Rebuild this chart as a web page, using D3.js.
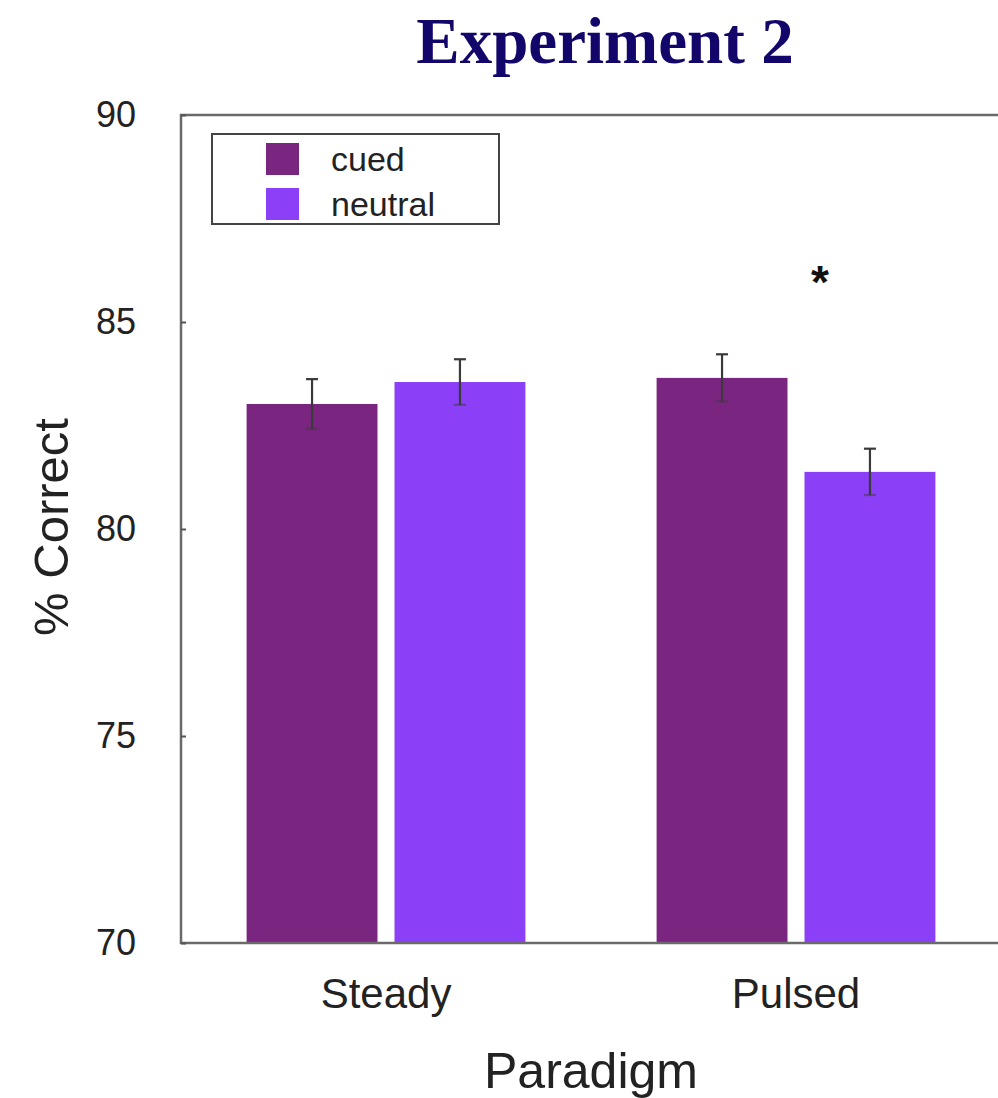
<!DOCTYPE html>
<html>
<head>
<meta charset="utf-8">
<script src="https://cdn.jsdelivr.net/npm/d3@7"></script>
<style>
  html, body { margin: 0; padding: 0; background: #fff; }
  svg { display: block; }
</style>
</head>
<body>
<svg id="chart" width="998" height="1098"></svg>
<script>
const categories = ["Steady", "Pulsed"];
const seriesNames = ["cued", "neutral"];
const cuedValues = [83.02, 83.65];
const neutralValues = [83.55, 81.38];
const cuedErrors = [0.6, 0.57];
const neutralErrors = [0.55, 0.56];
const yTicks = [70, 75, 80, 85, 90];
const significance = ["", "*"];

const colors = { cued: "#7a2680", neutral: "#8b40f7" };

const svg = d3.select("#chart");
const plotLeft = 181, plotTop = 115, plotBottom = 943, plotRight = 1001;

const x0 = d3.scaleBand().domain(categories).range([plotLeft, plotRight]).paddingInner(0.32).paddingOuter(0.16);
const x1 = d3.scaleBand().domain(seriesNames).range([0, x0.bandwidth()]).paddingInner(0.115).paddingOuter(0);
const y = d3.scaleLinear().domain([70, 90]).range([plotBottom, plotTop]);

const data = categories.map((c, i) => ({
  cat: c,
  items: [
    { s: "cued", v: cuedValues[i], e: cuedErrors[i] },
    { s: "neutral", v: neutralValues[i], e: neutralErrors[i] }
  ]
}));

// Title
svg.append("text")
  .attr("x", 605).attr("y", 63)
  .attr("text-anchor", "middle")
  .attr("font-family", "Liberation Serif, Times New Roman, serif")
  .attr("font-weight", "bold")
  .attr("font-size", 65)
  .attr("fill", "#13066b")
  .text("Experiment 2");

// Bars
const groups = svg.append("g").selectAll("g").data(data).join("g")
  .attr("transform", d => `translate(${x0(d.cat)},0)`);
groups.selectAll("rect").data(d => d.items).join("rect")
  .attr("x", d => x1(d.s))
  .attr("y", d => y(d.v))
  .attr("width", x1.bandwidth())
  .attr("height", d => y(70) - y(d.v))
  .attr("fill", d => colors[d.s]);

// Error bars
const eb = groups.selectAll("g.eb").data(d => d.items).join("g").attr("class", "eb")
  .attr("stroke", "#3a3a3a").attr("stroke-width", 2.2);
eb.append("line")
  .attr("x1", d => x1(d.s) + x1.bandwidth() / 2)
  .attr("x2", d => x1(d.s) + x1.bandwidth() / 2)
  .attr("y1", d => y(d.v + d.e)).attr("y2", d => y(d.v - d.e));
eb.append("line")
  .attr("x1", d => x1(d.s) + x1.bandwidth() / 2 - 6)
  .attr("x2", d => x1(d.s) + x1.bandwidth() / 2 + 6)
  .attr("y1", d => y(d.v + d.e)).attr("y2", d => y(d.v + d.e));
eb.append("line")
  .attr("x1", d => x1(d.s) + x1.bandwidth() / 2 - 6)
  .attr("x2", d => x1(d.s) + x1.bandwidth() / 2 + 6)
  .attr("y1", d => y(d.v - d.e)).attr("y2", d => y(d.v - d.e))
  .attr("stroke-opacity", 0.5);

// Significance
svg.append("g").selectAll("text").data(categories).join("text")
  .attr("x", (d) => x0(d) + x1("neutral") + x1.bandwidth() / 2 - 50)
  .attr("y", 298)
  .attr("text-anchor", "middle")
  .attr("font-family", "Liberation Sans, Arial, sans-serif")
  .attr("font-weight", "bold")
  .attr("font-size", 46)
  .attr("fill", "#111")
  .text((d, i) => significance[i]);

// Frame
const frame = svg.append("g").attr("stroke", "#6a6a6a").attr("stroke-width", 2.5).attr("fill", "none");
frame.append("path").attr("d", `M${plotRight},${plotTop}H${plotLeft}V${plotBottom}H${plotRight}`);

// Y axis (inward ticks)
const yAxis = svg.append("g").attr("transform", `translate(${plotLeft},0)`)
  .call(d3.axisLeft(y).tickValues(yTicks).tickSize(-5).tickPadding(45).tickFormat(d3.format("d")));
yAxis.select(".domain").remove();
yAxis.selectAll("line").attr("stroke", "#555").attr("stroke-width", 2);
yAxis.selectAll("text")
  .attr("font-family", "Liberation Sans, Arial, sans-serif")
  .attr("font-size", 36).attr("fill", "#222");

// X axis labels
const xAxis = svg.append("g").attr("transform", `translate(0,${plotBottom})`)
  .call(d3.axisBottom(x0).tickSize(0).tickPadding(35));
xAxis.select(".domain").remove();
xAxis.selectAll("text")
  .attr("font-family", "Liberation Sans, Arial, sans-serif")
  .attr("font-size", 42).attr("fill", "#222");

// Axis titles
svg.append("text")
  .attr("x", (plotLeft + plotRight) / 2).attr("y", 1088)
  .attr("text-anchor", "middle")
  .attr("font-family", "Liberation Sans, Arial, sans-serif")
  .attr("font-size", 50).attr("fill", "#222")
  .text("Paradigm");
svg.append("text")
  .attr("transform", "translate(68,527) rotate(-90)")
  .attr("text-anchor", "middle")
  .attr("font-family", "Liberation Sans, Arial, sans-serif")
  .attr("font-size", 49).attr("fill", "#222")
  .text("% Correct");

// Legend
const lg = svg.append("g").attr("transform", "translate(212,134)");
lg.append("rect").attr("width", 287).attr("height", 90)
  .attr("fill", "#fff").attr("stroke", "#444").attr("stroke-width", 2);
const li = lg.selectAll("g").data(seriesNames).join("g")
  .attr("transform", (d, i) => `translate(54,${9 + i * 45})`);
li.append("rect").attr("width", 33).attr("height", 32).attr("fill", d => colors[d]);
li.append("text").attr("x", 65).attr("y", 28)
  .attr("font-family", "Liberation Sans, Arial, sans-serif")
  .attr("font-size", 34).attr("fill", "#222")
  .text(d => d);
</script>
</body>
</html>
